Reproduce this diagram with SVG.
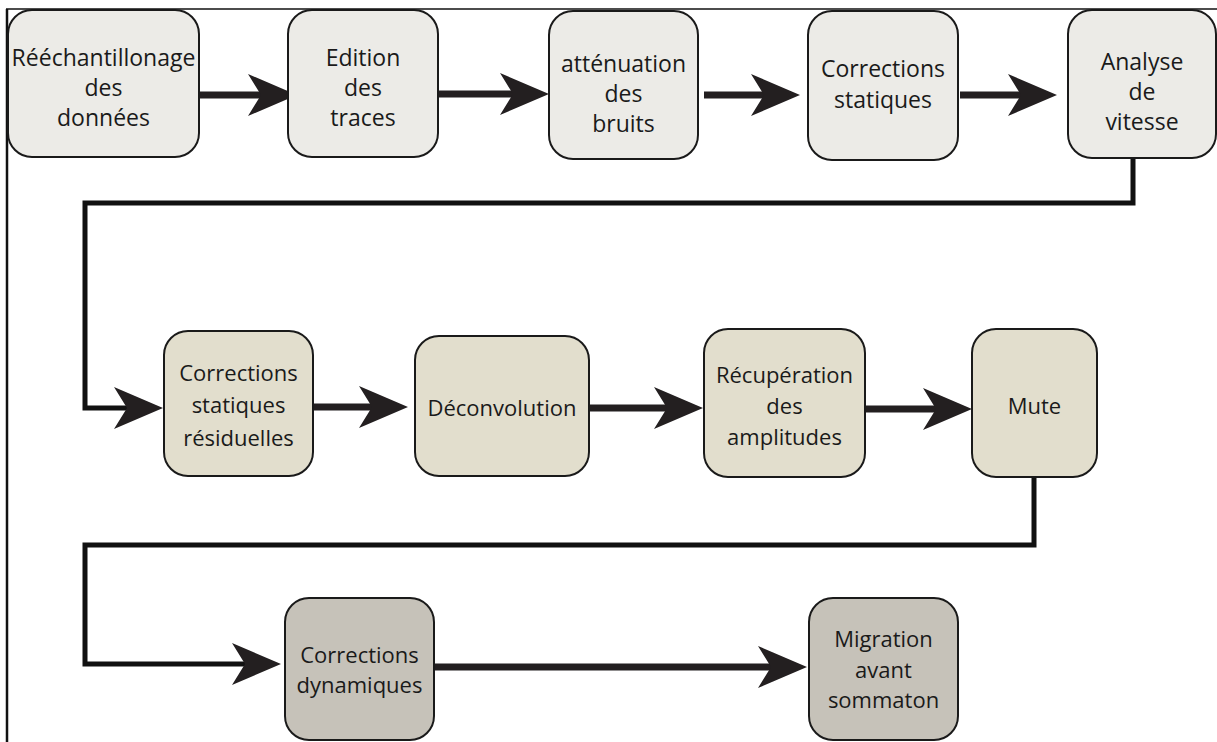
<svg xmlns="http://www.w3.org/2000/svg" width="1217" height="742" viewBox="0 0 1217 742">
<style>
.r1{fill:#ecebe7;stroke:#1a1a1a;stroke-width:2}
.r2{fill:#e2decd;stroke:#1a1a1a;stroke-width:2}
.r3{fill:#c6c2b9;stroke:#1a1a1a;stroke-width:2}
text{font-family:"Open Sans","Noto Sans",sans-serif;font-size:22px;fill:#1a1a1a;text-anchor:middle}
.t1{font-size:23px}
.ar{fill:none;stroke:#231f20;stroke-width:7}
.el{fill:none;stroke:#111;stroke-width:5;stroke-linejoin:miter}
</style>
<defs>
<marker id="ah" markerUnits="userSpaceOnUse" markerWidth="50" markerHeight="44" viewBox="0 -22 50 44" refX="13" refY="0" orient="auto" overflow="visible">
<path d="M0,-21 L49,0 L0,21 L13,0 Z" fill="#231f20"/>
</marker>
</defs>
<rect width="1217" height="742" fill="#fff"/>
<g id="frame" fill="none" stroke="#111">
<line x1="6" y1="9" x2="1217" y2="9" stroke-width="1.5"/>
<line x1="7" y1="9" x2="7" y2="742" stroke-width="2.5"/>
</g>
<g id="connectors">
<line class="ar" x1="199" y1="95" x2="261" y2="95" marker-end="url(#ah)"/>
<line class="ar" x1="438" y1="94" x2="513" y2="94" marker-end="url(#ah)"/>
<line class="ar" x1="704" y1="95" x2="764" y2="95" marker-end="url(#ah)"/>
<line class="ar" x1="960" y1="95" x2="1021" y2="95" marker-end="url(#ah)"/>
<path class="el" d="M1133,158 V203 H85 V408 H127" marker-end="url(#ah)"/>
<line class="ar" x1="313" y1="407" x2="372" y2="407" marker-end="url(#ah)"/>
<line class="ar" x1="589" y1="408" x2="667" y2="408" marker-end="url(#ah)"/>
<line class="ar" x1="865" y1="409" x2="936" y2="409" marker-end="url(#ah)"/>
<path class="el" d="M1034,477 V545 H85 V664 H245" marker-end="url(#ah)"/>
<line class="ar" x1="434" y1="667" x2="771" y2="667" marker-end="url(#ah)"/>
</g>
<g id="n1" class="t1"><rect class="r1" x="8" y="10" width="191" height="147" rx="24"/>
<text class="t1" x="103.5" y="66">Rééchantillonage</text><text class="t1" x="103.5" y="96">des</text><text class="t1" x="103.5" y="126">données</text></g>
<g id="n2"><rect class="r1" x="288" y="10" width="150" height="147" rx="24"/>
<text class="t1" x="363" y="66">Edition</text><text class="t1" x="363" y="96">des</text><text class="t1" x="363" y="126">traces</text></g>
<g id="n3"><rect class="r1" x="549" y="11" width="149" height="148" rx="24"/>
<text class="t1" x="623.5" y="72">atténuation</text><text class="t1" x="623.5" y="102">des</text><text class="t1" x="623.5" y="132">bruits</text></g>
<g id="n4"><rect class="r1" x="808" y="11" width="150" height="149" rx="24"/>
<text class="t1" x="883" y="77">Corrections</text><text class="t1" x="883" y="108">statiques</text></g>
<g id="n5"><rect class="r1" x="1068" y="10" width="148" height="148" rx="24"/>
<text class="t1" x="1142" y="70">Analyse</text><text class="t1" x="1142" y="100">de</text><text class="t1" x="1142" y="130">vitesse</text></g>
<g id="n6"><rect class="r2" x="164" y="331" width="149" height="145" rx="24"/>
<text x="238.5" y="381">Corrections</text><text x="238.5" y="413">statiques</text><text x="238.5" y="446">résiduelles</text></g>
<g id="n7"><rect class="r2" x="415" y="336" width="174" height="140" rx="24"/>
<text x="502" y="416">Déconvolution</text></g>
<g id="n8"><rect class="r2" x="704" y="329" width="161" height="148" rx="24"/>
<text x="784.5" y="383">Récupération</text><text x="784.5" y="414">des</text><text x="784.5" y="445">amplitudes</text></g>
<g id="n9"><rect class="r2" x="972" y="329" width="125" height="148" rx="24"/>
<text x="1034.5" y="414">Mute</text></g>
<g id="n10"><rect class="r3" x="285" y="598" width="149" height="142" rx="24"/>
<text x="359.5" y="663">Corrections</text><text x="359.5" y="693">dynamiques</text></g>
<g id="n11"><rect class="r3" x="809" y="598" width="149" height="142" rx="24"/>
<text x="883.5" y="647">Migration</text><text x="883.5" y="678">avant</text><text x="883.5" y="708">sommaton</text></g>
</svg>
